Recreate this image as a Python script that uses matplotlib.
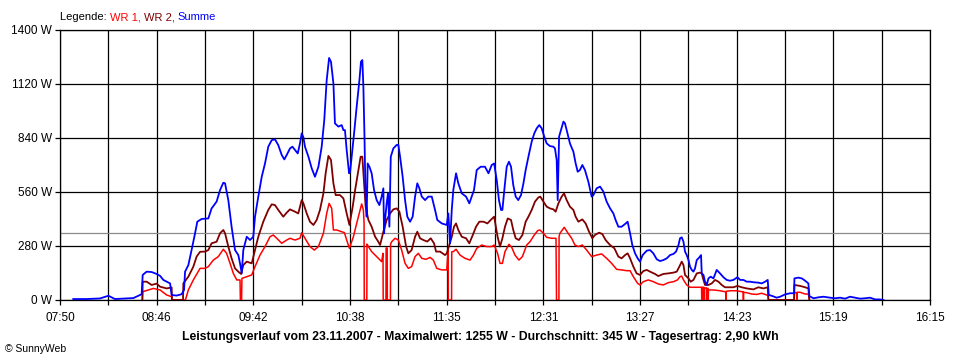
import matplotlib
matplotlib.use("Agg")
import matplotlib.pyplot as plt
import numpy as np

plt.rcParams['font.family'] = ['Liberation Sans', 'DejaVu Sans']

# ---- axis data ----
x_labels = ["07:50", "08:46", "09:42", "10:38", "11:35", "12:31", "13:27", "14:23", "15:19", "16:15"]
span_min = 505          # 07:50 .. 16:15 in minutes
y_ticks = [0, 280, 560, 840, 1120, 1400]
y_labels = ["0 W", "280 W", "560 W", "840 W", "1120 W", "1400 W"]
avg_w = 345

# ---- series (time in minutes after 07:50, power in W) ----
t_wr1 = [47.8, 48.0, 54.2, 58.1, 61.9, 64.8, 65.0, 72.8, 73.1, 74.5, 77.4, 81.3,
         84.2, 86.1, 89.0, 91.9, 94.8, 96.7, 98.7, 100.6, 102.6, 104.5, 104.7, 105.4, 105.6, 108.4,
         111.3, 113.2, 116.1, 119.0, 121.9, 123.8, 125.8, 128.7, 131.6, 133.5, 136.4, 139.3, 140.3,
         142.2, 145.1, 147.6, 150.0, 152.9, 154.8, 156.2, 157.7, 158.7, 160.6, 163.5, 165.1, 166.4, 168.0,
         170.3, 172.2, 174.2, 175.1, 176.1, 176.5, 176.6, 178.1, 178.2, 179.0, 180.9, 183.8, 186.7,
         187.5, 187.6, 189.2, 189.3, 189.9, 190.0, 191.8, 191.9, 192.5, 194.5, 196.4, 198.3, 200.3,
         202.2, 204.1, 206.1, 208.0, 210.0, 212.5, 214.8, 216.7, 218.7, 221.6, 224.5, 225.3, 225.4,
         227.3, 227.4, 228.3, 229.9, 232.2, 235.1, 238.0, 240.0, 241.9, 244.8, 247.7, 250.6, 252.0,
         254.0, 255.4, 256.8, 258.3, 260.6, 262.2, 264.1, 266.4, 268.4, 270.9, 272.8, 275.3, 277.3,
         278.6, 280.6, 282.5, 285.4, 287.9, 288.2, 289.6, 289.7, 290.2, 292.7, 294.7, 297.0, 298.9,
         300.9, 303.2, 305.7, 308.6, 311.5, 314.4, 317.3, 320.2, 323.1, 326.0, 328.9, 330.9, 332.8, 335.3,
         336.7, 338.6, 341.5, 344.4, 347.3, 350.2, 353.1, 356.1, 358.4, 359.9, 360.9, 361.9, 363.8,
         365.7, 368.6, 371.1, 372.4, 372.5, 372.7, 373.7, 373.8, 373.9, 375.2, 375.3, 375.4, 376.2,
         376.3, 376.4, 379.3, 383.1, 386.0, 386.5, 386.6, 386.7, 389.0, 392.8, 395.7, 396.6, 396.7,
         396.8, 398.6, 401.5, 404.4, 407.3, 410.2, 411.0, 411.2,
         426.1, 426.3, 427.6, 427.7, 427.8, 429.6, 432.5, 434.4, 435.0]
p_wr1 = [0, 43, 60, 52, 26, 17, 0, 0, 9, 52, 104, 164,
         164, 173, 207, 225, 263, 242, 190, 138, 104, 104, 0, 0, 112, 121,
         130, 173, 233, 277, 328, 337, 320, 294, 311, 320, 311, 320, 349,
         320, 277, 259, 277, 346, 449, 501, 475, 363, 363, 354, 349, 311, 268,
         328, 397, 467, 498, 467, 400, 0, 0, 290, 277, 251, 225, 199,
         242, 0, 0, 270, 270, 0, 0, 290, 302, 320, 311, 259, 190,
         164, 173, 225, 242, 216, 211, 221, 207, 164, 156, 156, 259, 0,
         0, 250, 251, 263, 233, 216, 207, 233, 268, 285, 277, 277, 285,
         242, 190, 190, 251, 289, 273, 233, 207, 225, 285, 302, 337, 360,
         363, 346, 325, 320, 320, 0, 0, 330, 346, 377, 349, 320, 285,
         277, 285, 259, 225, 233, 239, 216, 190, 159, 156, 152, 152, 121, 86,
         78, 95, 104, 95, 83, 78, 90, 95, 104, 121, 124, 104, 78,
         66, 66, 66, 66, 0, 66, 66, 0, 62, 62, 0, 60, 60,
         0, 52, 52, 48, 43, 43, 0, 45, 48, 48, 43, 43, 0,
         40, 38, 31, 29, 35, 26, 26, 0,
         0, 38, 38, 0, 40, 40, 31, 31, 0]

t_wr2 = [47.8, 48.0, 50.3, 53.2, 56.1, 58.1, 61.9, 64.8, 65.0, 71.4, 71.6, 74.5, 77.4, 79.3, 81.3,
         84.2, 86.1, 88.0, 90.9, 92.9, 94.8, 95.8, 97.7, 99.6, 101.6, 103.5, 105.1, 106.4, 108.4,
         111.3, 113.2, 115.1, 118.0, 120.9, 122.9, 124.8, 126.7, 129.6, 131.6, 133.5, 136.4, 138.3,
         140.3, 141.3, 143.2, 145.1, 147.1, 149.0, 150.9, 152.9, 154.2, 155.8, 157.3, 158.7, 160.0,
         162.5, 164.5, 166.4, 168.0,
         169.9, 171.3, 173.2, 174.5, 175.5, 176.5, 177.4, 179.0, 180.9, 182.9, 184.8, 185.8, 187.7,
         189.6, 191.6, 193.5, 195.4, 197.0, 198.9, 200.9, 202.2, 204.1, 206.1, 207.4, 209.0, 210.9,
         213.2, 215.2, 217.1, 218.3, 220.6, 223.5, 224.5, 225.4, 227.4, 228.7, 229.9, 231.2, 233.2,
         235.7, 237.6, 239.6, 241.5, 243.4, 245.8, 248.1, 250.0, 252.0,
         254.0, 255.4, 256.8, 258.3, 259.9, 261.8, 263.1, 264.5, 266.4, 268.4, 270.3, 271.9, 273.8,
         275.7, 277.7, 278.8, 280.6, 282.5, 284.4, 286.4, 287.7, 289.3, 291.2, 292.6, 294.1, 296.0,
         298.0, 299.3, 300.9, 303.2, 305.1, 307.1, 309.0, 310.5, 312.9, 314.8, 316.7, 319.3, 321.8,
         324.1, 326.0, 328.0, 329.5, 330.9, 332.8, 334.7,
         336.7, 338.6, 340.6, 342.5, 345.4, 347.3, 350.2, 353.1, 356.1, 358.0, 359.5, 360.9, 361.9,
         362.8, 364.8, 366.1, 367.7, 369.6, 371.5, 372.5, 373.5, 374.4, 376.4, 378.3, 380.2, 382.2,
         384.1, 386.0, 388.0, 390.9, 393.2, 395.7, 398.6, 402.5, 405.4, 408.3, 410.8, 411.2,
         426.1, 426.3, 429.6, 432.5, 434.4, 435.0]
p_wr2 = [0, 95, 95, 78, 85, 69, 60, 65, 0, 0, 86, 121, 173, 225, 250,
         251, 259, 294, 302, 346, 363, 346, 277, 216, 164, 147, 135, 181, 199,
         190, 259, 328, 406, 467, 496, 492, 467, 432, 453, 470, 458, 449,
         518, 501, 449, 406, 389, 415, 467, 553, 657, 747, 726, 605, 544,
         544, 527, 449, 389,
         484, 570, 674, 743, 743, 605, 484, 415, 380, 328, 302, 285, 354,
         415, 449, 470, 475, 458, 380, 277, 242, 259, 328, 354, 320, 311,
         303, 320, 294, 251, 251, 233, 242, 268, 328, 380, 397, 363, 328,
         320, 294, 337, 380, 406, 406, 397, 415, 432,
         328, 277, 320, 380, 423, 415, 363, 320, 311, 337, 406, 432, 467,
         510, 532, 536, 510, 484, 475, 470, 458, 501, 536, 553, 518, 484,
         467, 432, 406, 418, 397, 354, 320, 337, 349, 342, 311, 285, 268,
         225, 216, 233, 242, 216, 173, 138,
         130, 150, 156, 147, 135, 124, 135, 138, 142, 147, 173, 199, 181,
         130, 112, 95, 104, 138, 142, 138, 104, 78, 78, 86, 104, 95,
         78, 66, 66, 66, 73, 66, 60, 55, 66, 60, 66, 0,
         0, 78, 73, 66, 60, 0]

t_sum = [7.7, 15.5, 23.2, 28.1, 31.9, 42.6, 47.4, 48.0, 50.3, 53.2, 56.1, 58.1, 60.0, 63.9, 64.8,
         67.7, 70.6, 72.0, 72.6, 74.5, 76.4, 78.4, 79.7, 82.2,
         86.1, 88.0, 90.9, 92.9, 94.8, 95.8, 97.7, 99.6, 101.6, 103.5, 104.5, 105.5, 106.4, 108.4,
         110.3, 112.2, 113.2, 115.1, 117.1, 119.0, 120.9, 122.9, 124.8, 126.7, 128.7, 130.2, 131.6,
         133.5, 134.9, 136.4, 138.0, 139.3, 140.3, 141.3, 142.2, 144.2, 146.1, 148.0, 150.0, 151.9,
         153.4, 154.8, 156.2, 157.3, 158.7, 159.6, 161.6, 163.5, 164.5, 165.4, 166.4, 167.8,
         168.4, 169.3, 170.7, 172.2, 173.8, 174.7, 175.5, 176.1, 176.7, 177.3, 178.0, 178.6, 179.6,
         180.9, 182.3, 183.8, 185.4, 186.7, 187.7, 188.1, 188.7, 189.6, 190.4, 191.2, 192.0, 193.5,
         195.4, 196.4, 197.4, 198.9, 200.3, 201.6, 203.2, 204.7, 206.1, 207.4, 208.6, 210.0, 211.9,
         213.8, 215.8, 217.7, 219.0, 221.6, 224.5, 225.4, 226.4, 227.4, 228.3, 229.9, 231.2, 233.2,
         235.7, 237.6, 239.0, 240.3, 241.9, 244.2, 246.7, 248.7, 250.6, 252.0,
         253.5, 254.8, 256.0, 256.8, 257.9, 259.3, 260.6, 261.8, 263.1, 264.5, 266.0, 267.6, 269.0,
         270.3, 271.9, 273.8, 275.3, 276.7, 278.2, 279.6, 281.1, 282.5, 284.4, 286.4, 287.3, 288.3,
         288.9, 289.7, 290.8, 292.2, 293.1, 294.1, 296.0, 298.0, 299.3, 300.5, 301.8, 303.2, 304.7,
         306.7, 308.6, 309.6, 311.5, 313.5, 315.4, 317.3, 319.3, 321.2, 322.5, 324.1, 326.0, 328.4,
         329.5, 330.9, 332.2, 333.8, 335.3,
         336.7, 338.2, 340.6, 342.5, 344.4, 346.4, 348.3, 350.2, 352.2, 354.1, 356.1, 357.6, 359.0,
         359.9, 360.9, 361.9, 362.8, 363.8, 364.8, 365.7, 366.7, 367.7, 368.6, 369.6, 371.1, 372.1,
         372.5, 373.5, 374.4, 375.4, 376.4, 377.7, 379.3, 381.2, 383.1, 385.1, 387.0, 388.9, 390.9,
         393.2, 394.8, 396.7, 398.6, 400.6, 402.5, 405.4, 407.3, 409.3, 410.8, 411.4, 413.1, 416.0, 418.0,
         420.9, 423.8, 426.1, 426.3, 428.6, 430.6, 432.5, 434.4, 435.0, 437.4, 440.3, 443.2, 447.0,
         449.9, 452.8, 455.7, 458.6, 461.5, 464.4, 467.3, 470.2, 473.1, 476.0, 478.0]
p_sum = [5, 5, 8, 22, 5, 10, 30, 130, 147, 145, 135, 125, 104, 86, 26,
         23, 30, 52, 147, 181, 260, 346, 406, 420,
         423, 475, 510, 570, 608, 605, 518, 380, 259, 233, 190, 138, 259, 328,
         311, 328, 432, 536, 639, 708, 795, 829, 833, 803, 752, 729, 752,
         786, 795, 778, 760, 812, 864, 843, 795, 743, 683, 639, 691, 795,
         933, 1140, 1255, 1235, 1123, 916, 899, 907, 881, 881, 778, 657,
         665, 743, 864, 1002, 1140, 1236, 1244, 1106, 864, 570, 432, 708, 691,
         657, 570, 518, 492, 536, 579, 346, 415, 501, 553, 380, 743, 786,
         804, 804, 743, 639, 518, 432, 406, 432, 536, 605, 579, 536, 518,
         536, 536, 467, 415, 397, 389, 449, 294, 467, 570, 657, 605, 553,
         536, 501, 536, 570, 674, 691, 691, 657, 700, 708,
         622, 518, 467, 467, 570, 691, 717, 691, 596, 536, 518, 544, 605,
         674, 743, 821, 864, 890, 907, 890, 847, 812, 798, 795, 786, 726,
         518, 847, 881, 925, 916, 881, 812, 769, 709, 665, 674, 700, 674,
         613, 536, 544, 579, 588, 562, 510, 475, 449, 415, 380, 380, 397,
         406, 346, 285, 242, 216,
         199, 233, 256, 259, 242, 211, 202, 207, 216, 233, 239, 251, 285,
         320, 325, 302, 251, 233, 207, 173, 156, 147, 164, 207, 221, 233,
         138, 130, 95, 78, 112, 121, 112, 156, 138, 118, 104, 100, 104,
         118, 104, 104, 95, 95, 92, 90, 86, 95, 104, 26, 22, 12, 17,
         29, 35, 35, 112, 116, 112, 100, 86, 20, 9, 14, 17, 12,
         9, 12, 7, 17, 12, 7, 9, 12, 3, 3, 0]

title_text = ("Leistungsverlauf vom 23.11.2007 - Maximalwert: 1255 W - "
              "Durchschnitt: 345 W - Tagesertrag: 2,90 kWh")

# ---- figure ----
W, H = 960, 360
fig = plt.figure(figsize=(W / 100, H / 100), dpi=100)
fig.patch.set_facecolor("white")
ax = fig.add_axes([60 / W, 60 / H, 870 / W, 270 / H])
ax.set_xlim(0, span_min)
ax.set_ylim(0, 1400)

grid_x = np.linspace(0, span_min, 19)
for gx in grid_x:
    ax.axvline(gx, color="black", lw=0.9, zorder=1)
for gy in y_ticks:
    ax.axhline(gy, color="black", lw=0.9, zorder=1)
ax.axhline(avg_w, color="#8c8c8c", lw=0.9, zorder=1)

ax.plot(t_wr1, p_wr1, color="#ff0000", lw=1.1, zorder=3)
ax.plot(t_wr2, p_wr2, color="#800000", lw=1.3, zorder=4)
ax.plot(t_sum, p_sum, color="#0000ff", lw=1.3, zorder=5)

ax.set_xticks(grid_x)
ax.set_xticklabels([x_labels[i // 2] if i % 2 == 0 else "" for i in range(19)])
ax.set_yticks(y_ticks)
ax.set_yticklabels(y_labels)
ax.tick_params(axis="x", length=3.5, width=0.9, color="black", pad=5, labelsize=8.5)
ax.tick_params(axis="y", length=3.5, width=0.9, color="black", pad=2, labelsize=8.5)
for s in ax.spines.values():
    s.set_color("black")
    s.set_linewidth(0.9)

# bottom title and copyright
fig.text(480 / W, 1 - 337 / H, title_text, ha="center", va="center",
         fontsize=8.8, fontweight="bold", color="black")
fig.text(5 / W, 1 - 349 / H, "\u00a9 SunnyWeb", ha="left", va="center",
         fontsize=7.5, color="black")

# multi-colour legend line
fig.canvas.draw()
renderer = fig.canvas.get_renderer()
x0 = 60 / W
yl = 1 - 17 / H
for txt, col in [("Legende: ", "black"), ("WR 1, ", "#ff0000"),
                 ("WR 2, ", "#800000"), ("Summe", "#0000ff")]:
    t = fig.text(x0, yl, txt, ha="left", va="center", fontsize=8, color=col)
    bb = t.get_window_extent(renderer=renderer)
    x0 += bb.width / W

fig.savefig("out.png", dpi=100, facecolor="white")
